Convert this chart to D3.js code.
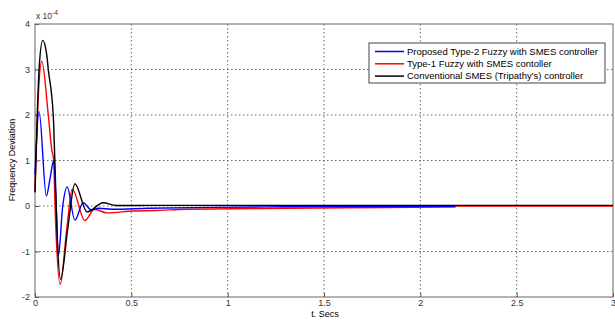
<!DOCTYPE html>
<html>
<head>
<meta charset="utf-8">
<script src="https://cdn.jsdelivr.net/npm/d3@7"></script>
<style>
  body { margin: 0; background: #fff; }
  text { font-family: "Liberation Sans", Arial, sans-serif; }
</style>
</head>
<body>
<div id="chart"></div>
<script>
// Frequency deviation (x 1e-4) vs time in seconds
var type2T = [0, 0.021, 0.059, 0.078, 0.097, 0.11, 0.121, 0.144, 0.167, 0.207, 0.25, 0.294, 0.33, 0.4, 0.59, 0.91, 1.2, 1.6, 2.18];
var type2V = [0.7, 2.08, 0.22, 0.6, 1.0, 0.0, -1.1, 0.0, 0.42, -0.31, 0.07, -0.09, -0.05, -0.07, -0.05, -0.03, -0.02, -0.01, -0.01];

var type1T = [0, 0.017, 0.035, 0.069, 0.087, 0.097, 0.104, 0.131, 0.165, 0.193, 0.259, 0.308, 0.372, 0.51, 0.62, 0.79, 1.29, 1.61, 2.18, 2.19, 3];
var type1V = [0.3, 2.4, 3.18, 2.0, 1.24, 1.02, 0.0, -1.72, -0.5, 0.37, -0.32, -0.07, -0.15, -0.11, -0.1, -0.07, -0.05, -0.04, -0.02, 0.0, 0.0];

var convT = [0, 0.022, 0.04, 0.061, 0.069, 0.095, 0.103, 0.114, 0.133, 0.17, 0.207, 0.27, 0.354, 0.42, 0.6, 3];
var convV = [0.3, 3.07, 3.64, 3.32, 3.0, 1.97, 1.0, -0.51, -1.61, -0.5, 0.49, -0.13, 0.07, 0.01, 0.013, 0.013];

var xTicks = [0, 0.5, 1, 1.5, 2, 2.5, 3];
var yTicks = [-2, -1, 0, 1, 2, 3, 4];
var xTickLabels = ["0", "0.5", "1", "1.5", "2", "2.5", "3"];
var yTickLabels = ["-2", "-1", "0", "1", "2", "3", "4"];

var seriesNames = ["Proposed Type-2 Fuzzy with SMES controller",
                   "Type-1 Fuzzy with SMES contoller",
                   "Conventional SMES (Tripathy's) controller"];
var seriesColors = ["#0000ff", "#ff0000", "#000000"];

var width = 615, height = 320;
var margin = {top: 24, right: 2, bottom: 23, left: 35};
var plotW = 578, plotH = 273;

var svg = d3.select("#chart")
    .append("svg")
    .attr("width", width)
    .attr("height", height);

var x = d3.scaleLinear().domain([0, 3]).range([0, plotW]);
var y = d3.scaleLinear().domain([-2, 4]).range([plotH, 0]);

var plot = svg.append("g")
    .attr("transform", "translate(" + margin.left + "," + margin.top + ")");

// dotted grid
plot.append("g")
    .selectAll("line")
    .data(xTicks.slice(1, -1))
    .enter()
    .append("line")
    .attr("x1", function(d) { return x(d); })
    .attr("x2", function(d) { return x(d); })
    .attr("y1", 0)
    .attr("y2", plotH)
    .attr("stroke", "#444")
    .attr("stroke-width", 0.8)
    .attr("stroke-dasharray", "1.5,2.5");

plot.append("g")
    .selectAll("line")
    .data(yTicks.slice(1, -1))
    .enter()
    .append("line")
    .attr("x1", 0)
    .attr("x2", plotW)
    .attr("y1", function(d) { return y(d); })
    .attr("y2", function(d) { return y(d); })
    .attr("stroke", "#444")
    .attr("stroke-width", 0.8)
    .attr("stroke-dasharray", "1.5,2.5");

// axes with inward ticks
var xAxis = d3.axisBottom(x)
    .tickValues(xTicks)
    .tickFormat(function(d, i) { return xTickLabels[i]; })
    .tickSizeInner(-4)
    .tickSizeOuter(0)
    .tickPadding(5);

var yAxis = d3.axisLeft(y)
    .tickValues(yTicks)
    .tickFormat(function(d, i) { return yTickLabels[i]; })
    .tickSizeInner(-4)
    .tickSizeOuter(0)
    .tickPadding(5);

var gx = plot.append("g")
    .attr("transform", "translate(0," + plotH + ")")
    .call(xAxis);
var gy = plot.append("g").call(yAxis);

[gx, gy].forEach(function(g) {
    g.select(".domain").remove();
    g.selectAll("line").attr("stroke", "#555");
    g.selectAll("text")
        .style("font-size", "9px")
        .attr("fill", "#333");
});
gx.selectAll("text").attr("dy", "0.45em");

// box
plot.append("rect")
    .attr("width", plotW)
    .attr("height", plotH)
    .attr("fill", "none")
    .attr("stroke", "#666")
    .attr("stroke-width", 1);

// curves
var line = d3.line()
    .x(function(d) { return x(d[0]); })
    .y(function(d) { return y(d[1]); })
    .curve(d3.curveMonotoneX);

function zip(ts, vs) {
    return ts.map(function(t, i) { return [t, vs[i]]; });
}

var series = [zip(type2T, type2V), zip(type1T, type1V), zip(convT, convV)];

// red first, then blue, black on top
[1, 0, 2].forEach(function(k) {
    plot.append("path")
        .datum(series[k])
        .attr("fill", "none")
        .attr("stroke", seriesColors[k])
        .attr("stroke-width", 1.4)
        .attr("stroke-linejoin", "round")
        .attr("d", line);
});

// exponent label
var expo = svg.append("text")
    .attr("x", 36)
    .attr("y", 19)
    .style("font-size", "8.5px")
    .attr("fill", "#333");
expo.append("tspan").text("x 10");
expo.append("tspan")
    .attr("dy", -4)
    .style("font-size", "6.5px")
    .text("-4");

// axis titles
svg.append("text")
    .attr("transform", "translate(15,160) rotate(-90)")
    .attr("text-anchor", "middle")
    .style("font-size", "9px")
    .text("Frequency Deviation");

svg.append("text")
    .attr("x", 325)
    .attr("y", 317)
    .attr("text-anchor", "middle")
    .style("font-size", "9px")
    .text("t. Secs");

// legend
var legend = svg.append("g")
    .attr("transform", "translate(369,43)");

legend.append("rect")
    .attr("width", 236)
    .attr("height", 40)
    .attr("fill", "#fff")
    .attr("stroke", "#444")
    .attr("stroke-width", 1);

var items = legend.selectAll(".item")
    .data(seriesNames)
    .enter()
    .append("g")
    .attr("transform", function(d, i) {
        return "translate(0," + (8.5 + i * 12.3) + ")";
    });

items.append("line")
    .attr("x1", 6)
    .attr("x2", 35)
    .attr("stroke", function(d, i) { return seriesColors[i]; })
    .attr("stroke-width", 1.5);

items.append("text")
    .attr("x", 38)
    .attr("dy", "0.35em")
    .style("font-size", "9.5px")
    .text(function(d) { return d; });
</script>
</body>
</html>
